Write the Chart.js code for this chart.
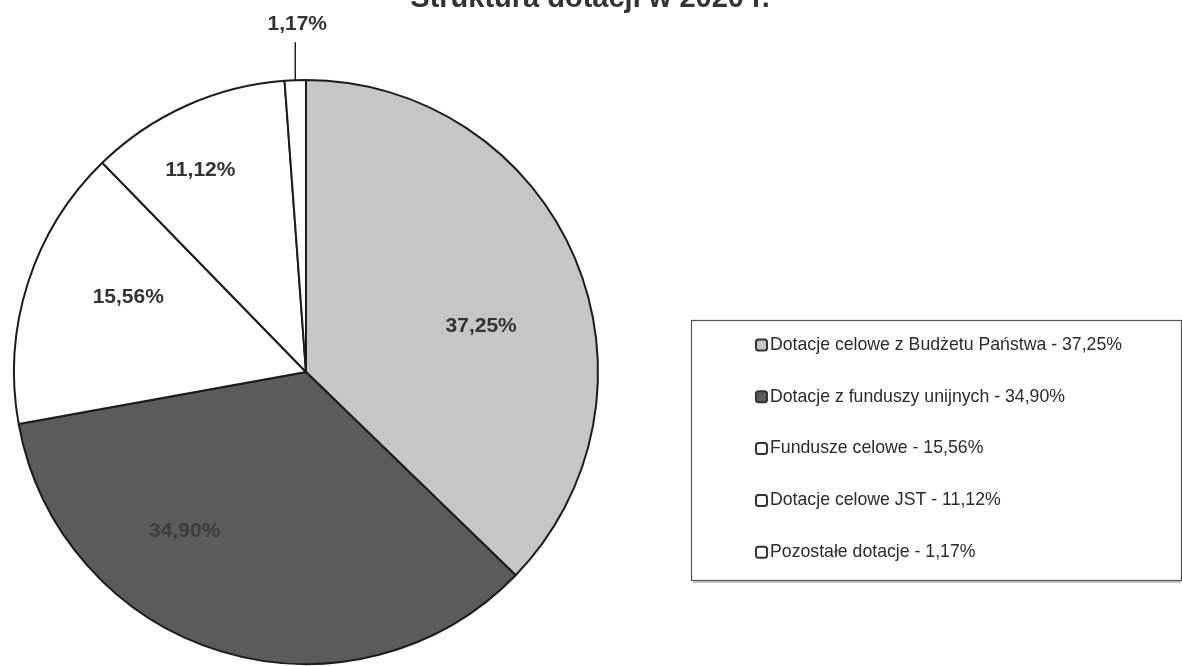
<!DOCTYPE html>
<html>
<head>
<meta charset="utf-8">
<script src="https://cdn.jsdelivr.net/npm/chart.js@4"></script>
<style>
  html, body { margin: 0; padding: 0; background: #ffffff; }
  #wrap { position: relative; width: 1182px; height: 666px; }
</style>
</head>
<body>
<div id="wrap"><canvas id="c" width="1182" height="666"></canvas></div>
<script>
// ---- data ----
const chartTitle = "Struktura dotacji w 2020 r.";
const categories = [
  "Dotacje celowe z Budżetu Państwa",
  "Dotacje z funduszy unijnych",
  "Fundusze celowe",
  "Dotacje celowe JST",
  "Pozostałe dotacje"
];
const shares = [37.25, 34.90, 15.56, 11.12, 1.17];
const shareLabels = ["37,25%", "34,90%", "15,56%", "11,12%", "1,17%"];

// ---- styles ----
const sliceColors = ["#c6c6c6", "#5b5b5b", "#ffffff", "#ffffff", "#ffffff"];
const labelColors = ["#333333", "#3c3c3c", "#333333", "#333333", "#333333"];
// label placement relative to each slice bisector (style only)
const labelAngleShiftDeg = [8.3, 20.4, 5, -3.4, 0];
const labelRadiusFrac = [0.62, 0.685, 0.66, 0.78, null];

const labelPlugin = {
  id: 'labels',
  afterDatasetsDraw(chart) {
    const ctx = chart.ctx;
    const meta = chart.getDatasetMeta(0);
    ctx.save();
    ctx.font = "bold 21px 'Liberation Sans', Arial, sans-serif";
    ctx.textAlign = 'center';
    ctx.textBaseline = 'middle';
    meta.data.forEach((arc, i) => {
      const p = arc.getProps(['x', 'y', 'startAngle', 'endAngle', 'outerRadius'], true);
      const mid = (p.startAngle + p.endAngle) / 2 + labelAngleShiftDeg[i] * Math.PI / 180;
      ctx.fillStyle = labelColors[i];
      if (labelRadiusFrac[i] !== null) {
        const r = p.outerRadius * labelRadiusFrac[i];
        ctx.fillText(shareLabels[i], p.x + r * Math.cos(mid), p.y + r * Math.sin(mid));
      } else {
        // outside label with leader line
        const ex = p.x + p.outerRadius * Math.cos(mid);
        const ey = p.y + p.outerRadius * Math.sin(mid);
        const ly = ey - 38;
        ctx.strokeStyle = '#222';
        ctx.lineWidth = 1.5;
        ctx.beginPath();
        ctx.moveTo(ex, ey);
        ctx.lineTo(ex, ly);
        ctx.stroke();
        ctx.fillText(shareLabels[i], ex + 2, ly - 18);
      }
    });
    ctx.restore();
  }
};

const decorPlugin = {
  id: 'decor',
  afterDraw(chart) {
    const ctx = chart.ctx;
    ctx.save();
    // title (cut off at the top edge)
    ctx.font = "bold 29px 'Liberation Sans', Arial, sans-serif";
    ctx.fillStyle = '#333';
    ctx.textAlign = 'center';
    ctx.textBaseline = 'alphabetic';
    ctx.fillText(chartTitle, 590, 7);

    // legend box
    const bx = 691, by = 320, bw = 1181 - 691, bh = 260;
    ctx.strokeStyle = '#555';
    ctx.lineWidth = 1.2;
    ctx.strokeRect(bx + 0.5, by + 0.5, bw, bh);
    ctx.strokeStyle = '#888';
    ctx.beginPath();
    ctx.moveTo(bx + 2, by + bh + 2);
    ctx.lineTo(bx + bw, by + bh + 2);
    ctx.stroke();

    ctx.font = "17.7px 'Liberation Sans', Arial, sans-serif";
    ctx.textAlign = 'left';
    ctx.textBaseline = 'middle';
    const rowY0 = 345, rowStep = 51.8;
    categories.forEach((name, i) => {
      const y = rowY0 + i * rowStep;
      const sx = 756, sy = y - 5.5, s = 11;
      ctx.beginPath();
      if (ctx.roundRect) ctx.roundRect(sx, sy, s, s, 2.5); else ctx.rect(sx, sy, s, s);
      ctx.fillStyle = sliceColors[i];
      ctx.fill();
      ctx.strokeStyle = '#333';
      ctx.lineWidth = 2;
      ctx.stroke();
      ctx.fillStyle = '#2b2b2b';
      ctx.fillText(name + " - " + shareLabels[i], 770, y);
    });
    ctx.restore();
  }
};

new Chart(document.getElementById('c'), {
  type: 'pie',
  data: {
    labels: categories,
    datasets: [{
      data: shares,
      backgroundColor: sliceColors,
      borderColor: '#1c1c1c',
      borderWidth: 2,
      borderAlign: 'center'
    }]
  },
  options: {
    responsive: false,
    animation: false,
    events: [],
    layout: { padding: { left: 13, right: 583, top: 79, bottom: 1 } },
    plugins: {
      legend: { display: false },
      title: { display: false },
      tooltip: { enabled: false }
    }
  },
  plugins: [labelPlugin, decorPlugin]
});
</script>
</body>
</html>
